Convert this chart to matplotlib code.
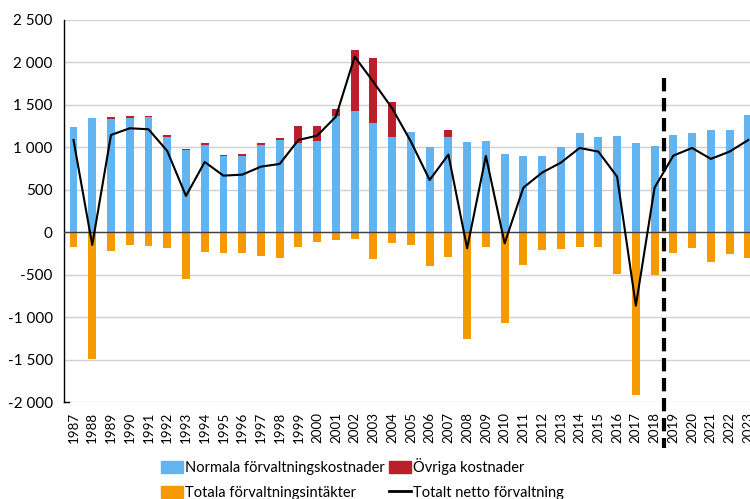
import numpy as np
import matplotlib
matplotlib.use("Agg")
import matplotlib.pyplot as plt
from matplotlib.ticker import FuncFormatter, MultipleLocator
from matplotlib.patches import Patch
from matplotlib.lines import Line2D

plt.rcParams["font.family"] = ["Lato", "DejaVu Sans"]

BLUE   = "#62b4f0"
RED    = "#bc1f2c"
ORANGE = "#f59a00"

years = list(range(1987, 2024))

normal_costs = [1244, 1342, 1331, 1350, 1358, 1127, 973, 1032, 899, 899,
                1028, 1091, 1048, 1079, 1366, 1429, 1283, 1123, 1181, 1001,
                1119, 1068, 1072, 926, 903, 903, 1009, 1166, 1119, 1134,
                1052, 1020, 1142, 1170, 1205, 1205, 1382]
other_costs = [0, 0, 23, 20, 16, 15, 8, 20, 12, 23,
               20, 20, 208, 169, 86, 718, 770, 412, 0, 0,
               86, 0, 0, 0, 0, 0, 0, 0, 0, 0,
               0, 0, 0, 0, 0, 0, 0]
income = [-169, -1491, -216, -149, -165, -188, -553, -232, -247, -247,
          -283, -306, -173, -118, -90, -82, -310, -130, -145, -393,
          -294, -1252, -177, -1068, -381, -208, -192, -177, -173, -491,
          -1915, -498, -247, -184, -345, -255, -298]
net_total = [1087, -149, 1146, 1225, 1213, 958, 428, 828, 667, 679,
             773, 805, 1087, 1138, 1362, 2068, 1770, 1460, 1068, 616,
             915, -188, 899, -130, 526, 703, 820, 993, 950, 655,
             -864, 526, 903, 993, 864, 950, 1087]

forecast_split = 2018.5
split_top, split_bottom = 1820, -2540


def thousands(v, pos):
    s = f"{abs(int(v)):,}".replace(",", " ")
    return ("-" if v < 0 else "") + s


fig = plt.figure(figsize=(7.5, 4.99), dpi=100)
ax = fig.add_axes([0.085, 0.194, 0.915, 0.766])

x = np.arange(len(years))
w = 0.42
normal = np.array(normal_costs)
ax.bar(x, normal, width=w, color=BLUE, zorder=2)
ax.bar(x, other_costs, width=w, bottom=normal, color=RED, zorder=2)
ax.bar(x, income, width=w, color=ORANGE, zorder=2)
ax.plot(x, net_total, color="black", linewidth=1.5, zorder=4)

ax.axhline(0, color="#404040", linewidth=1.0, zorder=3)

xs = years.index(2018) + (forecast_split - 2018)
ax.plot([xs, xs], [split_top, split_bottom], color="black", linewidth=3.0,
        linestyle=(0, (3.2, 1.6)), clip_on=False, zorder=5)

ax.set_xlim(-0.52, len(years) - 1 + 0.09)
ax.set_ylim(-2000, 2500)
ax.yaxis.set_major_locator(MultipleLocator(500))
ax.yaxis.set_major_formatter(FuncFormatter(thousands))
ax.grid(axis="y", color="#d0d0d0", linewidth=1.0, zorder=0)
ax.set_axisbelow(True)

ax.set_xticks(x)
ax.set_xticklabels([str(y) for y in years], rotation=90, fontsize=9.6)
ax.tick_params(axis="x", length=0, pad=7)
ax.tick_params(axis="y", labelsize=11, length=0, pad=8)

for side in ["top", "right", "bottom"]:
    ax.spines[side].set_visible(False)
ax.spines["left"].set_color("black")
ax.spines["left"].set_linewidth(1.0)
# short dark foot at the bottom of the value axis
ax.plot([-0.52, -0.25], [-2000, -2000], color="black", linewidth=1.0,
        zorder=3, clip_on=False)

# column-major order so rows read: blue | red, orange | line
handles = [
    Patch(color=BLUE, label="Normala förvaltningskostnader"),
    Patch(color=ORANGE, label="Totala förvaltningsintäkter"),
    Patch(color=RED, label="Övriga kostnader"),
    Line2D([0], [0], color="black", linewidth=2, label="Totalt netto förvaltning"),
]
fig.legend(handles=handles, ncol=2, loc="upper left",
           bbox_to_anchor=(161 / 750, 1 - 458 / 499),
           bbox_transform=fig.transFigure, borderaxespad=0, borderpad=0,
           frameon=False, fontsize=10.5,
           handlelength=1.5, handleheight=0.9, handletextpad=0.12,
           columnspacing=0.34, labelspacing=0.75)

fig.savefig("out.png", dpi=100)
